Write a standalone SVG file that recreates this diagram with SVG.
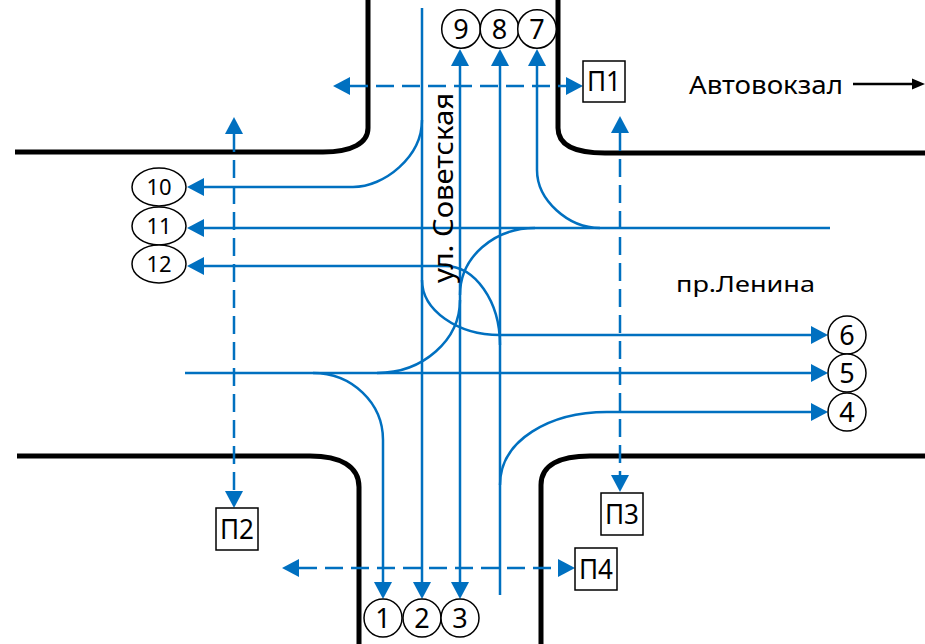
<svg xmlns="http://www.w3.org/2000/svg" width="925" height="644" viewBox="0 0 925 644">
<style>
.road{fill:none;stroke:#000;stroke-width:5}
.lane{fill:none;stroke:#0070C0;stroke-width:2.5}
.ped{fill:none;stroke:#0070C0;stroke-width:2.5;stroke-dasharray:18 8}
.node{fill:#fff;stroke:#000;stroke-width:1.5}
.t{font-family:"Noto Sans","Open Sans",sans-serif;fill:#000}
.num{font-size:27px;text-anchor:middle}
.num2{font-size:22px;text-anchor:middle}
.p{font-size:27px;text-anchor:middle}
.lbl{font-size:25px}
</style>
<defs>
<marker id="ah" viewBox="0 0 17 18" refX="0" refY="9" markerWidth="17" markerHeight="18" markerUnits="userSpaceOnUse" orient="auto-start-reverse">
<path d="M0,0 L17,9 L0,18 Z" fill="#0070C0"/>
</marker>
</defs>
<rect width="925" height="644" fill="#fff"/>
<g id="roads">
<path class="road" d="M15,152 H323 C352,152 368,143 368,128 V0"/>
<path class="road" d="M558,0 V128 C558,145 575,153 605,153 H925"/>
<path class="road" d="M17,456 H310 C340,456 359,466 359,487 V644"/>
<path class="road" d="M925,456 H590 C560,456 541,465 541,485 V644"/>
</g>
<g id="connectors">
<path class="lane" d="M313,373 C352,373 383,403 383,440 V582" marker-end="url(#ah)"/>
<path class="lane" d="M422,8 V582" marker-end="url(#ah)"/>
<path class="lane" d="M460,66 V582" marker-start="url(#ah)" marker-end="url(#ah)"/>
<path class="lane" d="M377,373 C423,373 460,340 460,300"/>
<path class="lane" d="M535,228 C494,228 460,257 460,295"/>
<path class="lane" d="M500,595 V66" marker-end="url(#ah)"/>
<path class="lane" d="M600,228 C568,228 537,200 537,170 V66" marker-end="url(#ah)"/>
<path class="lane" d="M422,120 C422,157 384,187 353,187 H204" marker-end="url(#ah)"/>
<path class="lane" d="M830,228 H204" marker-end="url(#ah)"/>
<path class="lane" d="M500,345 C500,301 475,266 445,266 H204" marker-end="url(#ah)"/>
<path class="lane" d="M422,280 C422,310 457,335 500,335 H811" marker-end="url(#ah)"/>
<path class="lane" d="M185,373 H811" marker-end="url(#ah)"/>
<path class="lane" d="M500,485 C500,440 550,412 607,412 H811" marker-end="url(#ah)"/>
<path class="ped" d="M350,86 H566" marker-start="url(#ah)" marker-end="url(#ah)"/>
<path class="ped" d="M234,134 V491" marker-start="url(#ah)" marker-end="url(#ah)"/>
<path class="ped" d="M620,133 V475" marker-start="url(#ah)" marker-end="url(#ah)"/>
<path class="ped" d="M299,568 H558" marker-start="url(#ah)" marker-end="url(#ah)"/>
<path d="M853,84 H915" stroke="#000" stroke-width="2.5" fill="none"/>
<path d="M912,78.5 L925,84 L912,89.5 Z" fill="#000"/>
</g>
<g id="n9"><circle class="node" cx="461" cy="29" r="19.3"/><text class="t num" x="461" y="38.6">9</text></g>
<g id="n8"><circle class="node" cx="499.5" cy="29" r="19.3"/><text class="t num" x="499.5" y="38.6">8</text></g>
<g id="n7"><circle class="node" cx="537" cy="29" r="19.3"/><text class="t num" x="537" y="38.6">7</text></g>
<g id="n1"><circle class="node" cx="383" cy="618" r="19"/><text class="t num" x="383" y="627.6">1</text></g>
<g id="n2"><circle class="node" cx="422" cy="618" r="19"/><text class="t num" x="422" y="627.6">2</text></g>
<g id="n3"><circle class="node" cx="460" cy="618" r="19"/><text class="t num" x="460" y="627.6">3</text></g>
<g id="n6"><circle class="node" cx="847" cy="335" r="19"/><text class="t num" x="847" y="344.6">6</text></g>
<g id="n5"><circle class="node" cx="847" cy="373" r="19"/><text class="t num" x="847" y="382.6">5</text></g>
<g id="n4"><circle class="node" cx="847" cy="412" r="19"/><text class="t num" x="847" y="421.6">4</text></g>
<g id="n10"><ellipse class="node" cx="159" cy="187" rx="27" ry="19"/><text class="t num2" x="159" y="194.8">10</text></g>
<g id="n11"><ellipse class="node" cx="159" cy="226" rx="27" ry="19"/><text class="t num2" x="159" y="233.8">11</text></g>
<g id="n12"><ellipse class="node" cx="159" cy="264" rx="27" ry="19"/><text class="t num2" x="159" y="271.8">12</text></g>
<g id="p1"><rect class="node" x="583" y="61" width="42" height="41"/><text class="t p" x="604" y="91" textLength="34" lengthAdjust="spacingAndGlyphs">П1</text></g>
<g id="p2"><rect class="node" x="216" y="508" width="42" height="42"/><text class="t p" x="237" y="538.5" textLength="34" lengthAdjust="spacingAndGlyphs">П2</text></g>
<g id="p3"><rect class="node" x="601" y="493" width="42" height="42"/><text class="t p" x="622" y="523.5" textLength="34" lengthAdjust="spacingAndGlyphs">П3</text></g>
<g id="p4"><rect class="node" x="575" y="548" width="42" height="42"/><text class="t p" x="596" y="578.5" textLength="34" lengthAdjust="spacingAndGlyphs">П4</text></g>
<g id="labels">
<text class="t lbl" x="689" y="94" textLength="154" lengthAdjust="spacingAndGlyphs">Автовокзал</text>
<text class="t" x="676" y="292" font-size="22" textLength="139" lengthAdjust="spacingAndGlyphs">пр.Ленина</text>
<text class="t" transform="translate(453,283) rotate(-90)" x="0" y="0" font-size="27" textLength="190" lengthAdjust="spacingAndGlyphs">ул. Советская</text>
</g>
</svg>
